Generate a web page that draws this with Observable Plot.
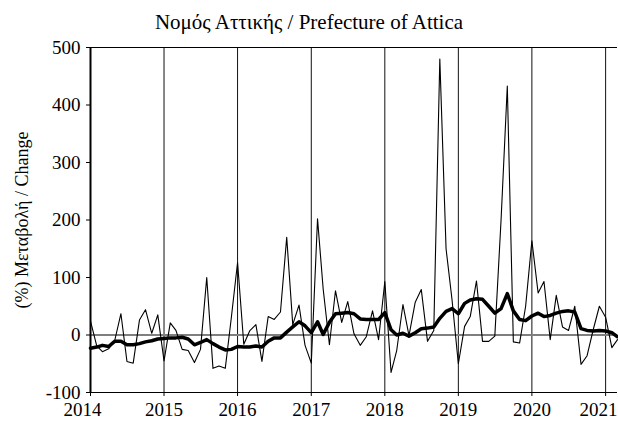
<!DOCTYPE html>
<html>
<head>
<meta charset="utf-8">
<script src="https://cdn.jsdelivr.net/npm/d3@7"></script>
<script src="https://cdn.jsdelivr.net/npm/@observablehq/plot@0.6"></script>
<style>
  html, body { margin: 0; padding: 0; background: #fff; }
  #title { height: 36px; width: 618px; font-family: 'Liberation Serif', serif; font-size: 21px; text-align: center; line-height: 44px; color: #000; overflow: visible; white-space: nowrap; }
  #chart svg { display: block; }
</style>
</head>
<body>
<div id="title">Νομός Αττικής / Prefecture of Attica</div>
<div id="chart"></div>
<script>
// Monthly values, Jan 2014 – Mar 2021
const startYear = 2014;
const monthly = [24, -19, -29, -24, -10, 37, -46, -49, 26, 44, 3, 35,
  -45, 21, 8, -25, -27, -48, -25, 100, -58, -54, -58, 30,
  126, -16, 7, 18, -46, 32, 27, 40, 170, 18, 52, -18,
  -49, 202, 80, -17, 77, 22, 58, 2, -18, -3, 42, -8,
  93, -65, -27, 53, -1, 57, 79, -11, 8, 480, 150, 60,
  -50, 15, 32, 94, -11, -11, -2, 200, 433, -12, -14, 50,
  164, 73, 93, -8, 69, 14, 8, 50, -51, -36, 10, 50,
  31, -22, -8];
const trend = [-23, -21, -18, -20, -11, -11, -17, -17, -15, -12, -10, -7,
  -6, -5, -5, -4, -7, -17, -13, -8, -15, -21, -26, -25,
  -20, -21, -21, -19, -21, -11, -5, -5, 5, 14, 23, 16,
  4, 23, 1, 22, 37, 38, 39, 37, 28, 27, 27, 27,
  39, 9, 0, 3, -2, 4, 11, 12, 14, 29, 41, 46,
  37, 55, 61, 63, 62, 50, 38, 46, 72, 42, 27, 25,
  33, 38, 32, 34, 38, 41, 42, 40, 11, 8, 7, 8,
  7, 4, -3];
const yearTicks = [2014, 2015, 2016, 2017, 2018, 2019, 2020, 2021];
const yTicks = [-100, 0, 100, 200, 300, 400, 500];
const titleText = "Νομός Αττικής / Prefecture of Attica";
const yLabel = "(%) Μεταβολή / Change";

const dates = monthly.map((_, i) => new Date(Date.UTC(startYear, i, 1)));
const data = monthly.map((v, i) => ({date: dates[i], value: v, trend: trend[i]}));
const yearDate = y => new Date(Date.UTC(y, 0, 1));
const midYears = yearTicks.slice(1, -1);
const fmtYear = d => String(d.getUTCFullYear());

const chart = Plot.plot({
  width: 618,
  height: 389,
  marginTop: 11,
  marginBottom: 33,
  marginLeft: 90,
  marginRight: 1,
  style: {fontFamily: "'Liberation Serif', serif", fontSize: "19px", color: "#000", background: "#fff", overflow: "visible"},
  x: {type: "utc", domain: [dates[0], dates[dates.length - 1]]},
  y: {domain: [-100, 500]},
  marks: [
    Plot.ruleX(yearTicks.slice(1).map(yearDate), {stroke: "#111", strokeWidth: 1}),
    Plot.ruleY([0], {stroke: "#7f7f7f", strokeWidth: 2}),
    Plot.ruleY([500, -100], {stroke: "#000", strokeWidth: 1}),
    Plot.ruleX([dates[0]], {stroke: "#000", strokeWidth: 2}),
    Plot.line(data, {x: "date", y: "value", stroke: "#000", strokeWidth: 1.1}),
    Plot.line(data, {x: "date", y: "trend", stroke: "#000", strokeWidth: 3.5, strokeLinejoin: "round"}),
    Plot.axisY(yTicks, {tickSize: 4, tickPadding: 6, tickFormat: d => String(d), label: null}),
    Plot.axisX(yearTicks.map(yearDate), {tickSize: 4, tickFormat: () => "", label: null}),
    Plot.axisX(midYears.map(yearDate), {tickSize: 0, tickPadding: 10, tickFormat: fmtYear, label: null}),
    Plot.axisX([yearDate(yearTicks[0])], {tickSize: 0, tickPadding: 10, dx: -8, tickFormat: fmtYear, label: null}),
    Plot.axisX([yearDate(yearTicks[yearTicks.length - 1])], {tickSize: 0, tickPadding: 10, dx: -7, tickFormat: fmtYear, label: null}),
    Plot.text([yLabel], {frameAnchor: "left", dx: -68, rotate: -90, textAnchor: "middle", fontSize: 18, fill: "#000"})
  ]
});
document.getElementById("chart").appendChild(chart);
</script>
</body>
</html>
